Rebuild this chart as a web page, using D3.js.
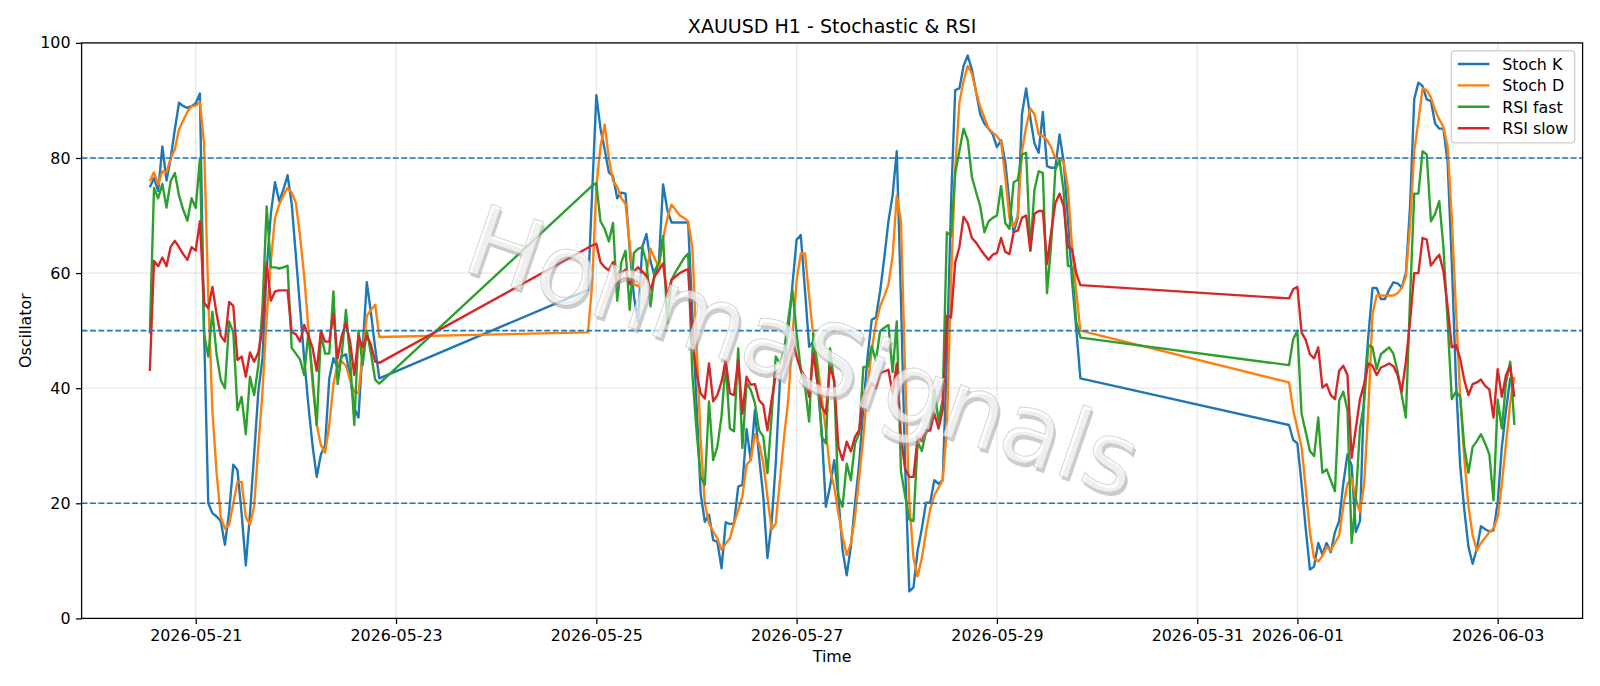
<!DOCTYPE html>
<html><head><meta charset="utf-8">
<script src="https://cdn.jsdelivr.net/npm/d3@7"></script>
<style>
body{margin:0;background:#fff;}
svg{display:block;}
text{font-family:"DejaVu Sans",sans-serif;}
</style>
</head><body>
<svg id="chart" width="1600" height="686"></svg>
<script>
// ---- DATA ----
// hourly bars, three trading segments (weekend gaps in between)
const segmentStart = ["2026-05-20T13:00:00Z", "2026-05-24T22:00:00Z", "2026-05-31T22:00:00Z"];
const segmentBars = [56, 119, 55];

const stochK = [
  // seg 1
  74.9,76.5,74.3,82,76.1,80,85,89.6,89,88.7,89,89.5,91.2,50,20,18.3,17.7,16.9,12.8,18.5,
  26.7,25.8,18.2,9.2,18.2,28.5,39.4,45.2,60.6,70.3,75.8,72.5,74.5,77,72,63,54,45,37,30,
  24.6,28.5,30.1,41.7,45.2,43.6,45.5,45.9,42,36.5,34.9,47,58.4,53,47,41.7,
  // seg 2
  57.1,74,90.9,85.1,81.5,77.5,76.8,73,74,73.8,
  64,56,51.6,64.5,66.8,62,59.4,62,75.4,71,
  68.8,68.8,68.8,68.8,68.8,53,37.4,21.7,16.8,18,
  13.6,13.3,8.7,16.7,16.4,16.5,22.9,23.2,32.9,27.5,
  36.2,28.1,21.2,10.5,16.5,27,41.4,44.3,50,58,
  65.8,66.6,57,47.2,48.1,40.8,32.7,19.4,22.9,27.5,
  21.2,11.9,7.5,12.5,20,27,36.8,45.5,51.9,52.3,
  56.8,62.6,69,73.5,81.2,55.5,26.6,4.7,5.4,11.8,
  15.6,20.1,20.1,24,23.4,24,45,72,91.8,92.1,
  96,97.8,95.4,91.5,87.6,86,85.1,84.1,81.9,83.1,
  79.3,72.2,67.1,69.6,87.6,92.1,87,82.5,80.9,88,
  78.6,78.3,78.3,84.1,79.3,69.6,58.7,50.4,41.7,
  // seg 3
  33.6,31,30.4,23.4,15.6,8.5,9,13.1,11.1,13.1,
  11.5,15,16.9,23.4,28.5,26.6,15,16.9,39.4,49.1,
  57.4,57.4,55.5,55.5,57.1,58.4,58.2,57.5,60,71.6,
  90.2,93.1,92.5,90.2,89.9,86,85.1,85.1,79.3,61.9,
  41.4,26.6,18.9,12.4,9.5,12.1,16,15.5,15.1,15.3,
  20.1,29.8,36.2,41.7,41.4
];

const stochD = [
  // seg 1
  76,77.5,75.4,77.7,77.5,80,81.5,85,86.5,88,89,89.1,89.7,82.5,56,36,25.3,17.6,15.6,16.3,
  20,23.7,23.7,17.6,16.3,19.5,29.8,39.4,52.3,62,69.6,71.9,73.5,74.8,74,72.2,66.4,59.4,50.4,40.7,
  33.6,30.1,28.8,33.6,40.7,44.3,44.6,43.9,41.4,39.4,39.1,45.9,52.6,53.6,54.5,48.9,
  // seg 2
  49.7,58,75,82,85.8,80,76,75,73,72,
  65,58,57.8,57.8,60,64.2,62.5,61,66,69.5,
  71.9,71,70,69.6,69,64.5,48,31,20,16.5,
  15.1,13.9,11.9,13,13.9,16.5,18.8,21.2,26.7,27.5,
  32,30.4,27,21.2,15.4,16.5,24,31.6,38,49,
  58.8,63.4,63.4,55.9,49,44.3,38.5,32.7,25.8,22.9,
  18.3,14.2,11,13,17.7,24.6,31.6,40.3,46.6,51.3,
  54.2,56,58,63,73.5,69,42.6,20.1,10.5,7.3,
  10.5,15,18.9,21.4,22.7,24,33,58.7,78,89.6,
  93.4,96,94.7,91.5,88.9,87,85.1,84.4,83.8,82.8,
  76.7,69.6,68,70,81.2,85.4,88.6,87.6,84.1,83.8,
  83.1,81.9,79.9,79.9,79.3,74.8,64.5,56.8,50,
  // seg 3
  41,36.2,33,29.8,22.7,15,10.5,9.9,10.8,12.4,
  11.8,13.1,14.4,19.5,23.4,24.3,20.8,18.5,23.4,36.2,
  52.9,56.1,56.1,56.1,56.1,56.1,56.5,57.4,59.4,68.4,
  81.2,86.4,92.1,91.8,90.5,88.3,86.7,85.4,81.9,69.6,
  53.6,38.8,27.9,19.5,14.4,11.8,13.1,14,15,15.6,
  17.6,23.4,30.4,37.5,42
];

const rsiFast = [
  // seg 1
  49.5,74.8,73,75.5,71.4,76,77.4,73.5,71,69.1,73,71.3,79.9,49.4,45.5,53.3,45.9,41.4,40,51.6,
  49.7,36.2,38.5,32,42,38.8,43.9,54,71.6,61,61,60.8,61,61.3,47,46,45,42.3,49.7,42,
  33.6,49.5,46,46,56.8,40.7,46,53.6,45,33.6,50,44,50,46,41.5,40.8,
  // seg 2
  74.5,75.2,75.6,69,67.7,65.5,68.7,55.2,61.9,63.9,
  53.6,63.5,64.2,64.5,61.9,54.2,60.5,61.8,66.4,51.3,
  58.8,60.2,61.4,62.6,63.4,42.6,32.7,24.6,23.2,37.7,
  27.5,29.8,35.1,44.3,33,32.5,46.9,29.6,40.9,39.7,
  37.4,32.7,31.6,25.2,35.1,45.5,44.3,46.6,52,57,
  49.5,43.2,40.3,34.2,49.5,43.2,31.6,30.4,46.9,40.8,
  21.2,19.4,26.9,24,30.4,32.2,43.7,43.7,47.3,44.8,
  49.9,50.5,51,42.8,51.6,25.5,21.3,17.2,16.9,30.7,
  29.1,32.4,32.7,39.8,34.3,38,67.1,66.4,77.4,81.2,
  85.1,83.1,76.7,74.1,71.6,67.1,69,69.6,70,75.1,
  68.7,67.7,75.8,76.2,80.6,80.9,63.9,74.5,77.7,77.4,
  56.5,65.1,78,79.6,74.1,61.3,61,51.6,48.8,
  // seg 3
  44,48.5,50,35.6,32.4,29.1,28.2,34.9,25.3,25.9,
  24,22.1,37.8,39.4,36.2,13.1,20.8,33,37.5,47.5,
  47.1,43.3,45.9,46.5,47.1,46,43,38.8,34.9,55.5,
  73.8,73.8,81.2,80.6,69,70.3,72.5,64.5,51.6,38.1,
  39.4,38.5,29.8,25.3,29.8,30.8,32,30.4,28.5,20.5,
  38,33,41,44.6,33.6
];

const rsiSlow = [
  // seg 1
  43,62.1,61.2,62.7,61.2,64.6,65.6,64.5,63.3,62.3,64.5,63.9,69,54.9,53.9,57.6,52.9,49.1,48.1,55,
  54.3,44.9,45.5,42,46.2,44.6,46.2,50.4,61.9,55.2,56.8,57,57,57,49.7,49.4,48.1,51,49.1,47,
  43,50,48.1,48.1,52.9,45.2,49.1,51.3,48,42.3,49.1,47.1,49.1,47.5,44.6,44.4,
  // seg 2
  64.4,64.8,65.1,61.9,61,60.5,61.9,58.1,60,60.6,
  58.1,60.3,61,60.3,59.5,57.1,59.5,60.5,61.7,55.9,
  58.8,59.4,60,60.4,60.7,48.4,42.6,39.1,38.2,44.3,
  37.7,38.8,41.1,44.9,39.1,38.8,44.9,35.6,42,40.6,
  40.7,37.9,37.1,32.7,37.9,42.3,42.6,43.5,46,48.4,
  45.5,43.2,42,38.5,46,40.8,36.8,35.6,43.7,41.4,
  29.8,27.5,30.7,29,31.6,32.7,39.1,39.1,40.9,40,
  42.6,42.9,43.2,39.1,44.3,31.4,26,24.6,24.6,31.5,
  30.8,32.7,32.7,35.6,33,36.2,52.6,52.3,61.9,64.5,
  69.8,68.7,66.1,65.3,64.2,63.2,62.3,63.2,63.5,66.1,
  63.7,63.3,67.1,67.4,69.6,70,63.9,70.3,70.8,70.8,
  61.6,67.1,72.2,73.8,71.6,64.5,64.2,60,57.9,
  // seg 3
  55.6,57.2,57.6,49.7,48.4,45.9,45.2,47.1,40.1,40.7,
  38.8,38.1,43,43.9,42.3,27.9,33,38.1,40.7,44.3,
  43.9,42.3,43.6,43.9,44.3,43.8,42.3,39.4,44.6,51.6,
  60,60,66.1,65.8,61.3,62.3,63.2,60.3,54.2,47.1,
  47.5,45.2,41.4,38.8,40.7,41,41.5,40.4,39.8,34.9,
  43.3,38.5,42.3,43.9,38.5
];

const seriesNames = ["Stoch K", "Stoch D", "RSI fast", "RSI slow"];
const seriesColors = ["#1f77b4", "#ff7f0e", "#2ca02c", "#d62728"];
const levelLines = [20, 50, 80];
const xTickLabels = ["2026-05-21","2026-05-23","2026-05-25","2026-05-27","2026-05-29","2026-05-31","2026-06-01","2026-06-03"];
const yTickValues = [0, 20, 40, 60, 80, 100];
const titleText = "XAUUSD H1 - Stochastic & RSI";
const xLabel = "Time", yLabel = "Oscillator";
const watermarkText = "HonmaSignals";

// ---- LAYOUT ----
const PT = 1.5873; // px per pt
const L = 81.6, R = 1582.6, T = 42.9, B = 618.4;
const svg = d3.select("#chart");
svg.append("rect").attr("width",1600).attr("height",686).attr("fill","#fff");

const times = [];
segmentStart.forEach((s, i) => {
  const t0 = Date.parse(s);
  for (let k = 0; k < segmentBars[i]; k++) times.push(new Date(t0 + k * 3600e3));
});
const tMin = +times[0], tMax = +times[times.length - 1];
const padT = (tMax - tMin) * 0.05;
const x = d3.scaleUtc().domain([new Date(tMin - padT), new Date(tMax + padT)]).range([L, R]);
const y = d3.scaleLinear().domain([0, 100]).range([B, T]);
const xTicks = xTickLabels.map(s => new Date(s + "T00:00:00Z"));

// grid
const grid = svg.append("g").attr("stroke", "#b0b0b0").attr("stroke-opacity", 0.3).attr("stroke-width", 0.8 * PT);
grid.selectAll("line.v").data(xTicks).join("line")
  .attr("x1", d => x(d)).attr("x2", d => x(d)).attr("y1", T).attr("y2", B);
grid.selectAll("line.h").data(yTickValues).join("line")
  .attr("x1", L).attr("x2", R).attr("y1", d => y(d)).attr("y2", d => y(d));

// clip
svg.append("clipPath").attr("id","clip").append("rect").attr("x",L).attr("y",T).attr("width",R-L).attr("height",B-T);
const plot = svg.append("g").attr("clip-path","url(#clip)");

const allSeries = [stochK, stochD, rsiFast, rsiSlow];
allSeries.forEach((vals, si) => {
  plot.append("path").datum(vals)
    .attr("d", d3.line().x((d, i) => x(times[i])).y(d => y(d)))
    .attr("fill", "none").attr("stroke", seriesColors[si])
    .attr("stroke-width", 1.5 * PT).attr("stroke-linejoin", "round").attr("stroke-linecap", "butt");
});

// level lines
plot.selectAll("line.lvl").data(levelLines).join("line")
  .attr("x1", L).attr("x2", R).attr("y1", d => y(d)).attr("y2", d => y(d))
  .attr("stroke", "#1f77b4").attr("stroke-width", 1 * PT)
  .attr("stroke-dasharray", `${3.7 * PT},${1.6 * PT}`);

// watermark (light text with soft grey shadow)
const wm = svg.append("g").attr("transform", "translate(800,360) rotate(19)");
wm.append("text").attr("x", 3).attr("y", 3).attr("dy", "0.25em").attr("text-anchor", "middle")
  .attr("font-size", 98).attr("fill", "#9a9a9a").attr("fill-opacity", 0.5).text(watermarkText);
wm.append("text").attr("x", 0).attr("y", 0).attr("dy", "0.25em").attr("text-anchor", "middle")
  .attr("font-size", 98).attr("fill", "#ffffff").attr("fill-opacity", 0.68)
  .attr("stroke", "#c4c4c4").attr("stroke-width", 1).attr("stroke-opacity", 0.7).text(watermarkText);

// axes
const fs = 10 * PT;
const xAxis = d3.axisBottom(x).tickValues(xTicks).tickFormat(d3.utcFormat("%Y-%m-%d"))
  .tickSize(3.5 * PT).tickPadding(3.5 * PT).tickSizeOuter(0);
const gx = svg.append("g").attr("transform", `translate(0,${B})`).call(xAxis);
gx.select(".domain").remove();
gx.selectAll("line").attr("stroke", "#000").attr("stroke-width", 0.8 * PT);
gx.selectAll("text").attr("font-size", fs).attr("fill", "#000").attr("font-family", "DejaVu Sans");

const yAxis = d3.axisLeft(y).tickValues(yTickValues).tickSize(3.5 * PT).tickPadding(3.5 * PT).tickSizeOuter(0);
const gy = svg.append("g").attr("transform", `translate(${L},0)`).call(yAxis);
gy.select(".domain").remove();
gy.selectAll("line").attr("stroke", "#000").attr("stroke-width", 0.8 * PT);
gy.selectAll("text").attr("font-size", fs).attr("fill", "#000").attr("font-family", "DejaVu Sans");

// spines
svg.append("rect").attr("x", L).attr("y", T).attr("width", R - L).attr("height", B - T)
  .attr("fill", "none").attr("stroke", "#000").attr("stroke-width", 0.8 * PT);

// labels
svg.append("text").attr("x", (L + R) / 2).attr("y", 33).attr("text-anchor", "middle")
  .attr("font-size", 12 * PT).attr("fill", "#000").text(titleText);
svg.append("text").attr("x", (L + R) / 2).attr("y", 662).attr("text-anchor", "middle")
  .attr("font-size", fs).attr("fill", "#000").text(xLabel);
svg.append("text").attr("transform", `translate(30.5,${(T + B) / 2}) rotate(-90)`).attr("text-anchor", "middle")
  .attr("font-size", fs).attr("fill", "#000").text(yLabel);

// legend
const lgX = 1451.4, lgY = 50.8, lgW = 123.3, lgH = 92;
svg.append("rect").attr("x", lgX).attr("y", lgY).attr("width", lgW).attr("height", lgH)
  .attr("rx", 3).attr("fill", "#fff").attr("fill-opacity", 0.8).attr("stroke", "#cccccc").attr("stroke-width", 0.8 * PT);
seriesNames.forEach((n, i) => {
  const cy = 64 + i * 21.4;
  svg.append("line").attr("x1", lgX + 6.35).attr("x2", lgX + 6.35 + 31.7).attr("y1", cy).attr("y2", cy)
    .attr("stroke", seriesColors[i]).attr("stroke-width", 1.5 * PT);
  svg.append("text").attr("x", lgX + 6.35 + 31.7 + 12.7).attr("y", cy).attr("dy", "0.36em")
    .attr("font-size", fs).attr("fill", "#000").text(n);
});
</script>
</body></html>
